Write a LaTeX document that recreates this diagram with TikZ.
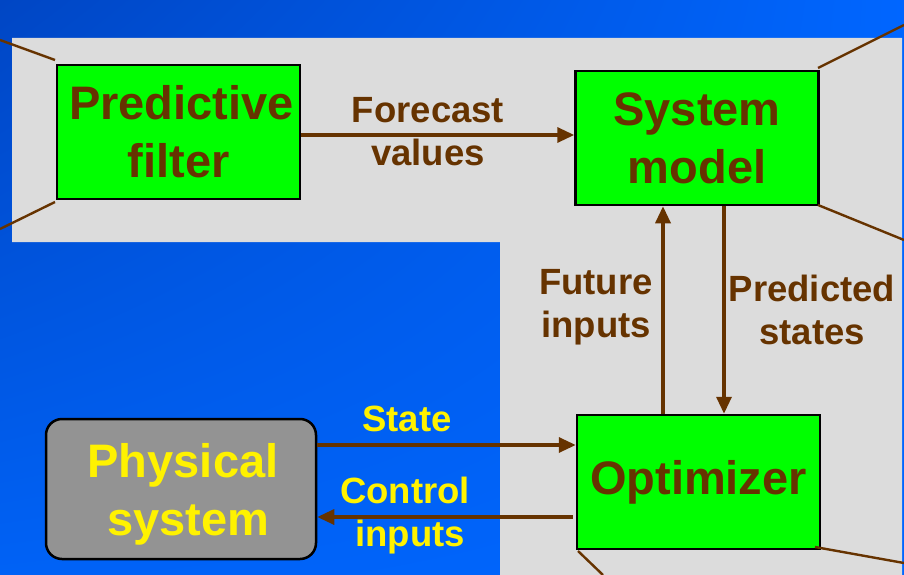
\documentclass[tikz,border=0pt]{standalone}
\usepackage{fontspec}
\setmainfont{Liberation Sans}
\usetikzlibrary{arrows.meta,shadings}
\definecolor{brownink}{HTML}{663300}
\definecolor{boxgreen}{HTML}{00FF00}
\definecolor{panelgray}{HTML}{DCDCDC}
\definecolor{plantgray}{HTML}{939393}
\definecolor{bgdark}{RGB}{0,70,196}
\definecolor{bgmid}{RGB}{0,98,246}
\definecolor{bgbright}{RGB}{0,102,255}
\begin{document}
\begin{tikzpicture}[x=1pt,y=-1pt,
  block/.style={draw=black, line width=2.5pt, fill=boxgreen, text=brownink,
    font=\bfseries\fontsize{47}{58}\selectfont, align=center, inner sep=0pt,
    minimum width=243pt, minimum height=134pt},
  plant/.style={draw=black, line width=2.5pt, fill=plantgray, text=yellow,
    rounded corners=16pt, font=\bfseries\fontsize{47}{58}\selectfont,
    align=center, inner sep=0pt, text depth=0pt,
    minimum width=270pt, minimum height=140pt},
  lbl/.style={font=\bfseries\fontsize{36.5}{43}\selectfont, align=center,
    inner sep=0pt, text=brownink},
  sig/.style={lbl, text=yellow},
  flow/.style={draw=brownink, line width=3.3pt, -{Triangle[length=17pt,width=15pt]}},
  ray/.style={draw=brownink, line width=2.4pt}
]
% background
\useasboundingbox (0,0) rectangle (904,575);
\shade[upper left=bgdark, upper right=bgbright, lower left=bgmid, lower right=bgbright]
  (0,0) rectangle (904,575);
% light panel behind the prediction loop
\fill[panelgray] (12,38) -- (902,38) -- (902,575) -- (500,575) -- (500,242) -- (12,242) -- cycle;

% blocks
\node[block] (pf)  at (178.5,132) {\hspace*{6pt}Predictive\\filter};
\node[block] (sm)  at (697,138)   {System\\model};
\node[block] (opt) at (698.5,482) {Optimizer};
\node[plant] (ps)  at (181,489)   {\hspace*{4pt}Physical\\\hspace*{14pt}system};

% perspective rays from block corners
\coordinate (pfTop) at (55,60);
\coordinate (pfBot) at (55,202);
\coordinate (smTop) at (818,68);
\coordinate (smBot) at (818,205);
\coordinate (opBR) at (815,547);
\coordinate (opBL) at (578,551);
\draw[ray] (0,40) -- (pfTop);
\draw[ray] (pfBot) -- (0,229);
\draw[ray] (smTop) -- (904,25);
\draw[ray] (smBot) -- (904,240);
\draw[ray] (opBR) -- (904,563);
\draw[ray] (opBL) -- (603,575);

% signal paths
\coordinate (fx) at (663,0);
\coordinate (px) at (724,0);
\coordinate (stY) at (0,445);
\coordinate (ctY) at (0,517);
\draw[flow] ([yshift=-3pt]pf.east) -- ([yshift=-3pt]pf.east -| sm.west);
\draw[flow] (fx |- opt.north) -- (fx |- sm.south);
\draw[flow] (px |- sm.south) -- (px |- opt.north);
\draw[flow] (stY -| ps.east) -- (stY -| opt.west);
\draw[flow] ([xshift=-3pt]ctY -| opt.west) -- (ctY -| ps.east);

% labels
\node[lbl] (lfc) at (428,132) {Forecast\\values};
\node[lbl] (lfi) at (596,307) {Future\\inputs};
\node[lbl] (lps) at (812,310) {Predicted\\states};
\node[sig] (lst) at (407,419) {State};
\node[sig] (lci) at (405,516) {Control\\\hspace*{10pt}inputs};
\end{tikzpicture}
\end{document}
